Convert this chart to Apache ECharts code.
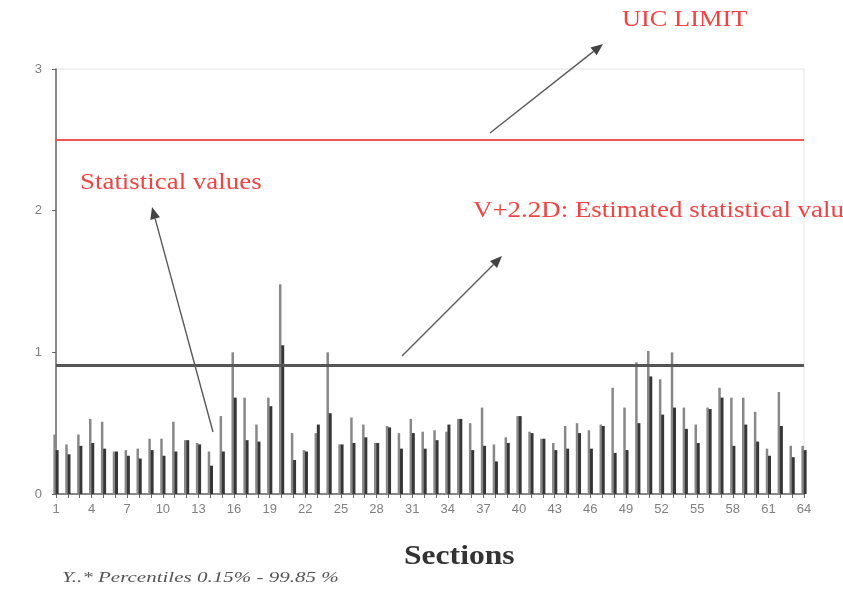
<!DOCTYPE html>
<html>
<head>
<meta charset="utf-8">
<script src="https://cdn.jsdelivr.net/npm/echarts@6/dist/echarts.min.js"></script>
<style>
html,body{margin:0;padding:0;background:#fff;}
#chart{width:843px;height:593px;}
</style>
</head>
<body>
<div id="chart"></div>
<script>
// ---- data ----
var sections = [];
for (var i = 1; i <= 64; i++) sections.push(String(i));

// upper (lighter) percentile lines per section
var upperValues = [0.42,0.35,0.42,0.53,0.51,0.30,0.31,0.32,0.39,0.39,
                   0.51,0.38,0.36,0.30,0.55,1.00,0.68,0.49,0.68,1.48,
                   0.43,0.31,0.43,1.00,0.35,0.54,0.49,0.36,0.48,0.43,
                   0.53,0.44,0.45,0.44,0.53,0.50,0.61,0.35,0.40,0.55,
                   0.44,0.39,0.36,0.48,0.50,0.45,0.49,0.75,0.61,0.93,
                   1.01,0.81,1.00,0.61,0.49,0.61,0.75,0.68,0.68,0.58,
                   0.32,0.72,0.34,0.34];
// statistical values (dark) per section
var statValues = [0.31,0.28,0.34,0.36,0.32,0.30,0.27,0.25,0.31,0.27,
                  0.30,0.38,0.35,0.20,0.30,0.68,0.38,0.37,0.62,1.05,
                  0.24,0.30,0.49,0.57,0.35,0.36,0.40,0.36,0.47,0.32,
                  0.43,0.32,0.38,0.49,0.53,0.31,0.34,0.23,0.36,0.55,
                  0.43,0.39,0.31,0.32,0.43,0.32,0.48,0.29,0.31,0.50,
                  0.83,0.56,0.61,0.46,0.36,0.60,0.68,0.34,0.49,0.37,
                  0.27,0.48,0.26,0.31];

var uicLimit = 2.5;
var estimatedLimit = 0.91;
var yTicks = [0, 1, 2, 3];

// ---- arrows (annotation graphics) ----
function arrow(x1, y1, x2, y2) {
  var ang = Math.atan2(y2 - y1, x2 - x1);
  var L = 12, W = 5;
  var bx = x2 - L * Math.cos(ang), by = y2 - L * Math.sin(ang);
  var px = -Math.sin(ang) * W, py = Math.cos(ang) * W;
  return [
    {type:'line', shape:{x1:x1,y1:y1,x2:bx,y2:by}, style:{stroke:'#5a5a5a',lineWidth:1.4}, z:100},
    {type:'polygon', shape:{points:[[x2,y2],[bx+px,by+py],[bx-px,by-py]]}, style:{fill:'#444'}, z:100}
  ];
}

var graphics = []
  .concat(arrow(490,133,603,44))
  .concat(arrow(213,432,152,207))
  .concat(arrow(402,356,502,256));

var red = '#ee4444';
function txt(x, y, s, font, color, sx) {
  return {type:'text', x:x, y:y, scaleX:sx, style:{text:s, fill:color, font:font, textVerticalAlign:'top'}, z:100};
}
graphics.push(
  txt(622, 8, 'UIC LIMIT', '24px "Liberation Serif", serif', red, 1.1),
  txt(80, 171, 'Statistical values', '23px "Liberation Serif", serif', red, 1.17),
  txt(473, 199, 'V+2.2D: Estimated statistical values', '23px "Liberation Serif", serif', red, 1.17),
  txt(404, 544, 'Sections', 'bold 27px "Liberation Serif", serif', '#333', 1.17),
  txt(62, 571, 'Y..* Percentiles 0.15% - 99.85 %', 'italic 14px "Liberation Serif", serif', '#555', 1.5)
);

var chart = echarts.init(document.getElementById('chart'), null, {renderer:'canvas'});
chart.setOption({
  animation: false,
  backgroundColor: '#fff',
  grid: {left:56, right:39, top:69, bottom:99, show:true, borderColor:'#e2e2e2', borderWidth:1},
  xAxis: {
    type:'category', data:sections, boundaryGap:false,
    axisLine:{lineStyle:{color:'#666', width:1.5}},
    axisTick:{show:true, interval:0, length:4, lineStyle:{color:'#666'}},
    axisLabel:{interval:2, color:'#808080', fontSize:13, fontFamily:'"Liberation Sans", Arial', margin:9},
    splitLine:{show:false}
  },
  yAxis: {
    type:'value', min:yTicks[0], max:yTicks[yTicks.length-1], interval:1,
    axisLine:{show:true, lineStyle:{color:'#666', width:1.5}},
    axisTick:{show:true, length:4, lineStyle:{color:'#666'}},
    axisLabel:{color:'#808080', fontSize:13, fontFamily:'"Liberation Sans", Arial', margin:14},
    splitLine:{show:false}
  },
  series: [
    {
      name:'Upper', type:'bar', data:upperValues, barWidth:2.5, barGap:'-10%', clip:false,
      itemStyle:{color:'#888'},
      markLine:{
        silent:true, symbol:'none', label:{show:false},
        data:[{yAxis:uicLimit, lineStyle:{color:'#ee5555', width:2, type:'solid'}}]
      }
    },
    {
      name:'Statistical', type:'bar', data:statValues, barWidth:3, clip:false,
      itemStyle:{color:'#363636'},
      markLine:{
        silent:true, symbol:'none', label:{show:false},
        data:[{yAxis:estimatedLimit, lineStyle:{color:'#555', width:3, type:'solid'}}]
      }
    }
  ],
  graphic: graphics
});
</script>
</body>
</html>
